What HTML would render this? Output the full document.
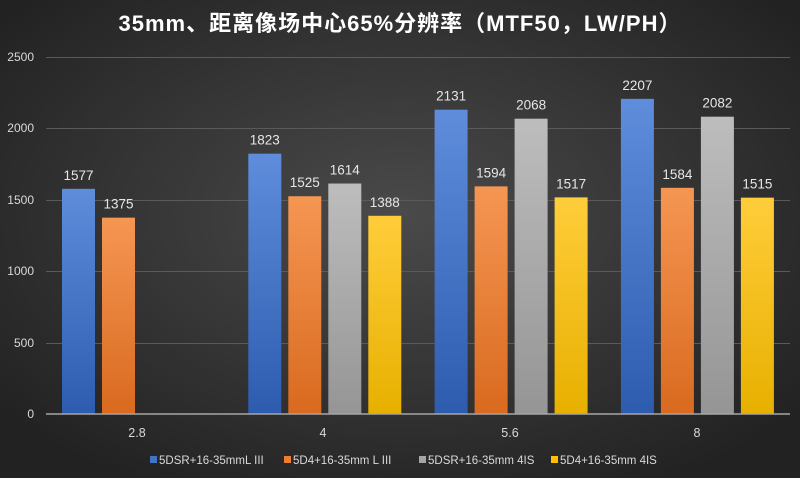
<!DOCTYPE html>
<html><head><meta charset="utf-8"><style>
body{margin:0;width:800px;height:478px;overflow:hidden;background:#333}
svg{display:block;font-family:"Liberation Sans","Noto Sans CJK SC",sans-serif}
</style></head><body>
<svg width="800" height="478" viewBox="0 0 800 478">
<defs>
<radialGradient id="bg" cx="50%" cy="45%" r="65%">
<stop offset="0" stop-color="#4a4a4a"/><stop offset="1" stop-color="#222"/></radialGradient>
<linearGradient id="gb" x1="0" y1="0" x2="0" y2="1"><stop offset="0" stop-color="#5f8ddc"/><stop offset="1" stop-color="#2d5caf"/></linearGradient>
<linearGradient id="go" x1="0" y1="0" x2="0" y2="1"><stop offset="0" stop-color="#f59653"/><stop offset="1" stop-color="#d96a1f"/></linearGradient>
<linearGradient id="gg" x1="0" y1="0" x2="0" y2="1"><stop offset="0" stop-color="#bdbdbd"/><stop offset="1" stop-color="#959595"/></linearGradient>
<linearGradient id="gy" x1="0" y1="0" x2="0" y2="1"><stop offset="0" stop-color="#ffcd3a"/><stop offset="1" stop-color="#e7b000"/></linearGradient>
</defs>
<rect width="800" height="478" fill="url(#bg)"/>
<text x="400" y="31" text-anchor="middle" fill="#fff" font-size="22" font-weight="bold" letter-spacing="1">35mm、距离像场中心65%分辨率（MTF50，LW/PH）</text>
<g stroke="#5a5a5a" stroke-width="1">
<line x1="46" x2="790" y1="57.5" y2="57.5"/><line x1="46" x2="790" y1="128.5" y2="128.5"/><line x1="46" x2="790" y1="200.5" y2="200.5"/><line x1="46" x2="790" y1="271.5" y2="271.5"/><line x1="46" x2="790" y1="343.5" y2="343.5"/>
</g>
<g fill="#d9d9d9" font-size="12" text-anchor="end">
<text x="34" y="61">2500</text><text x="34" y="132">2000</text><text x="34" y="204">1500</text><text x="34" y="275">1000</text><text x="34" y="347">500</text><text x="34" y="418">0</text>
</g>
<g id="bars"></g>
<line x1="46" x2="790" y1="414" y2="414" stroke="#a6a6a6" stroke-width="1.5"/>
<g fill="#d9d9d9" font-size="12.5" text-anchor="middle">
<text x="137" y="437">2.8</text><text x="323" y="437">4</text><text x="510" y="437">5.6</text><text x="697" y="437">8</text>
</g>
<g font-size="11.5" fill="#d9d9d9">
<rect x="150" y="456" width="7" height="7" fill="#4472c4"/><text x="159" y="464">5DSR+16-35mmL III</text>
<rect x="284" y="456" width="7" height="7" fill="#ed7d31"/><text x="293" y="464">5D4+16-35mm L III</text>
<rect x="419" y="456" width="7" height="7" fill="#a5a5a5"/><text x="428" y="464">5DSR+16-35mm 4IS</text>
<rect x="551" y="456" width="7" height="7" fill="#ffc000"/><text x="560" y="464">5D4+16-35mm 4IS</text>
</g>
</svg>
<script>
var d=[[1577,1375,null,null],[1823,1525,1614,1388],[2131,1594,2068,1517],[2207,1584,2082,1515]];
var f=["url(#gb)","url(#go)","url(#gg)","url(#gy)"];var s="";
for(var i=0;i<4;i++)for(var j=0;j<4;j++){var v=d[i][j];if(v==null)continue;
var x=62+186.3*i+40*j,y=414-v*0.1428;
s+='<rect x="'+x+'" y="'+y+'" width="33" height="'+(414-y)+'" fill="'+f[j]+'"/>';
s+='<text x="'+(x+16.5)+'" y="'+(y-9)+'" text-anchor="middle" fill="#e6e6e6" font-size="13.5">'+v+'</text>';}
document.getElementById("bars").innerHTML=s;
</script>
</body></html>
